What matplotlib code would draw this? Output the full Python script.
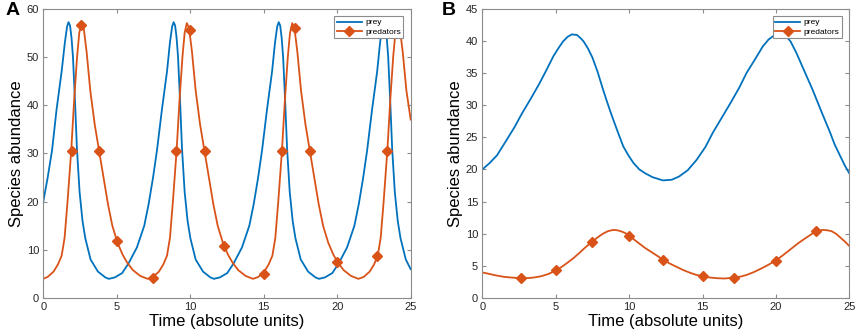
import matplotlib
matplotlib.use("Agg")
import matplotlib.pyplot as plt
from matplotlib.lines import Line2D

plt.rcParams['font.family'] = ['Liberation Sans', 'DejaVu Sans']

# ---- panel A: prey / predators
a_prey_t = [0, 0.3, 0.6, 0.9, 1.25, 1.47, 1.62, 1.72, 1.82, 1.92, 2.02, 2.17, 2.29, 2.47, 2.67, 2.86,
            3.22, 3.72, 4.22, 4.46, 4.87, 5.37, 5.81, 6.37, 6.87, 7.17, 7.47, 7.74, 8.07, 8.42, 8.62,
            8.77, 8.87, 8.97, 9.07, 9.17, 9.32, 9.44, 9.62, 9.82, 10.01, 10.37, 10.87, 11.37, 11.61,
            12.02, 12.52, 12.96, 13.52, 14.02, 14.32, 14.62, 14.89, 15.22, 15.57, 15.77, 15.92, 16.02,
            16.12, 16.22, 16.32, 16.47, 16.59, 16.77, 16.97, 17.16, 17.52, 18.02, 18.52, 18.76, 19.17,
            19.67, 20.11, 20.67, 21.17, 21.47, 21.77, 22.04, 22.37, 22.72, 22.92, 23.07, 23.17, 23.27,
            23.37, 23.47, 23.62, 23.74, 23.92, 24.12, 24.31, 24.67, 25.0]
a_prey = [20, 25, 30.7, 39, 47, 53, 56.3, 57.2, 56.5, 54, 50, 40, 31, 22, 16, 12.4,
          8, 5.5, 4.3, 4.0, 4.3, 5.2, 7.25, 10.5, 15, 19.5, 25, 30.7, 39, 47, 53,
          56.3, 57.2, 56.5, 54, 50, 40, 31, 22, 16, 12.4, 8, 5.5, 4.3, 4.0,
          4.3, 5.2, 7.25, 10.5, 15, 19.5, 25, 30.7, 39, 47, 53, 56.3, 57.2,
          56.5, 54, 50, 40, 31, 22, 16, 12.4, 8, 5.5, 4.3, 4.0, 4.3,
          5.2, 7.25, 10.5, 15, 19.5, 25, 30.7, 39, 47, 53, 56.3, 57.2, 56.5,
          54, 50, 40, 31, 22, 16, 12.4, 8, 6.0]

a_pred_t = [0, 0.3, 0.7, 1.0, 1.25, 1.45, 1.65, 1.9, 2.1, 2.3, 2.45, 2.6, 2.75, 2.95, 3.2, 3.5, 3.8,
            4.1, 4.4, 4.7, 5.05, 5.4, 5.7, 6.1, 6.6, 7.1, 7.47, 7.87, 8.17, 8.42, 8.62, 8.82, 9.07,
            9.27, 9.47, 9.62, 9.77, 9.92, 10.12, 10.37, 10.67, 10.97, 11.27, 11.57, 11.87, 12.22,
            12.57, 12.87, 13.27, 13.77, 14.27, 14.64, 15.04, 15.34, 15.59, 15.79, 15.99, 16.24,
            16.44, 16.64, 16.79, 16.94, 17.09, 17.29, 17.54, 17.84, 18.14, 18.44, 18.74, 19.04,
            19.39, 19.74, 20.04, 20.44, 20.94, 21.44, 21.81, 22.21, 22.51, 22.76, 22.96, 23.16,
            23.41, 23.61, 23.81, 23.96, 24.11, 24.26, 24.46, 24.71, 25.0]
a_pred = [4.0, 4.4, 5.5, 7.0, 8.8, 12.5, 20, 30.5, 41, 50, 55, 57, 56, 51, 43, 36, 30.5,
          25, 19.5, 15, 11.5, 9.0, 7.4, 5.8, 4.6, 4.0, 4.4, 5.5, 7.0, 8.8, 12.5, 20, 30.5,
          41, 50, 55, 57, 56, 51, 43, 36, 30.5, 25, 19.5, 15, 11.5,
          9.0, 7.4, 5.8, 4.6, 4.0, 4.4, 5.5, 7.0, 8.8, 12.5, 20, 30.5,
          41, 50, 55, 57, 56, 51, 43, 36, 30.5, 25, 19.5, 15,
          11.5, 9.0, 7.4, 5.8, 4.6, 4.0, 4.4, 5.5, 7.0, 8.8, 12.5, 20,
          30.5, 41, 50, 55, 57, 56, 51, 43, 37]

a_mark_t = [1.93, 2.6, 3.8, 5.0, 7.5, 9.05, 9.98, 10.98, 12.3, 15.0, 16.25, 17.15, 18.15, 20.0, 22.7, 23.38]
a_mark = [30.5, 56.6, 30.5, 11.8, 4.2, 30.5, 55.5, 30.5, 10.8, 5.0, 30.5, 55.9, 30.5, 7.4, 8.8, 30.5]

# ---- panel B
b_prey_t = [0, 0.5, 1.0, 1.66, 2.2, 2.7, 3.3, 3.9, 4.4, 4.84, 5.2, 5.5, 5.8, 6.1, 6.45, 6.7, 6.9,
            7.2, 7.5, 7.85, 8.2, 8.5, 8.8, 9.2, 9.6, 9.95, 10.3, 10.7, 11.1, 11.6, 12.3, 12.9,
            13.4, 14.0, 14.6, 15.2, 15.7, 16.3, 16.9, 17.5, 18.0, 18.6, 19.1, 19.5, 19.8, 20.2,
            20.5, 20.7, 21.0, 21.4, 21.9, 22.5, 23.1, 23.7, 24.0, 24.4, 24.7, 25.0]
b_prey = [20.0, 21.0, 22.2, 24.6, 26.6, 28.7, 31.0, 33.4, 35.6, 37.6, 38.9, 39.9, 40.6, 41.0, 40.9,
          40.4, 39.9, 38.8, 37.4, 35.2, 32.6, 30.5, 28.5, 26.0, 23.6, 22.2, 21.0, 20.0, 19.4,
          18.8, 18.3, 18.4, 18.9, 19.9, 21.5, 23.5, 25.7, 28.0, 30.3, 32.7, 35.0, 37.2, 39.1,
          40.2, 40.7, 41.0, 40.9, 40.7, 39.9, 38.1, 35.5, 32.4, 29.0, 25.7, 23.9, 22.0, 20.6, 19.4]

b_pred_t = [0, 0.5, 1.0, 1.5, 2.0, 2.6, 3.1, 3.5, 4.0, 4.5, 5.0, 5.4, 5.8, 6.2, 6.6, 7.0, 7.45,
            7.8, 8.2, 8.55, 8.9, 9.2, 9.5, 9.75, 10.0, 10.4, 10.8, 11.15, 11.5, 11.9, 12.3,
            12.75, 13.2, 13.7, 14.2, 14.6, 15.05, 15.5, 16.0, 16.5, 17.14, 17.6, 18.0, 18.5,
            19.0, 19.5, 20.0, 20.5, 21.0, 21.5, 22.0, 22.4, 22.73, 23.0, 23.2, 23.5, 23.8,
            24.1, 24.4, 24.7, 25.0]
b_pred = [4.0, 3.75, 3.5, 3.3, 3.2, 3.1, 3.12, 3.2, 3.4, 3.75, 4.3, 4.85, 5.5, 6.2, 7.0, 7.85, 8.7,
          9.35, 10.0, 10.4, 10.6, 10.55, 10.35, 10.1, 9.7, 9.0, 8.3, 7.7, 7.2, 6.6, 6.0,
          5.4, 4.9, 4.35, 3.9, 3.6, 3.4, 3.2, 3.1, 3.05, 3.2, 3.35, 3.6, 4.05,
          4.6, 5.2, 5.85, 6.7, 7.6, 8.5, 9.3, 9.9, 10.4, 10.55, 10.6, 10.55, 10.4,
          10.0, 9.4, 8.8, 8.1]

b_mark_t = [2.61, 5.0, 7.45, 10.0, 12.3, 15.05, 17.14, 20.0, 22.73]
b_mark = [3.1, 4.3, 8.7, 9.7, 6.0, 3.4, 3.2, 5.85, 10.4]

BLUE = '#0072BD'
ORANGE = '#D95319'
GREY = '#8c8c8c'

fig = plt.figure(figsize=(8.57, 3.32), dpi=100)
axA = fig.add_axes([0.0505, 0.102, 0.4287, 0.872])
axB = fig.add_axes([0.5628, 0.102, 0.4282, 0.872])


def style(ax, ymax, ystep):
    ax.set_xlim(0, 25)
    ax.set_ylim(0, ymax)
    ax.set_xticks(range(0, 26, 5))
    ax.set_yticks(range(0, ymax + 1, ystep))
    ax.tick_params(direction='in', length=3, width=0.8, labelsize=8, colors=GREY,
                   labelcolor='#262626', top=True, right=True, pad=3)
    for s in ax.spines.values():
        s.set_color(GREY)
        s.set_linewidth(0.8)
    ax.set_xlabel('Time (absolute units)', fontsize=12, labelpad=1)
    ax.set_ylabel('Species abundance', fontsize=12, labelpad=2)
    handles = [Line2D([], [], color=BLUE, lw=1.3),
               Line2D([], [], color=ORANGE, lw=1.3, marker='D', markersize=5)]
    leg = ax.legend(handles, ['prey', 'predators'], loc='upper right', fontsize=6,
                    fancybox=False, framealpha=1, edgecolor=GREY, handlelength=3.0,
                    borderpad=0.3, labelspacing=0.2, handletextpad=0.4,
                    borderaxespad=0.9)
    leg.get_frame().set_linewidth(0.8)


axA.plot(a_prey_t, a_prey, color=BLUE, lw=1.3)
axA.plot(a_pred_t, a_pred, color=ORANGE, lw=1.3)
axA.plot(a_mark_t, a_mark, ls='none', marker='D', markersize=5, color=ORANGE)
style(axA, 60, 10)

axB.plot(b_prey_t, b_prey, color=BLUE, lw=1.3)
axB.plot(b_pred_t, b_pred, color=ORANGE, lw=1.3)
axB.plot(b_mark_t, b_mark, ls='none', marker='D', markersize=5, color=ORANGE)
style(axB, 45, 5)

fig.text(0.006, 0.955, 'A', fontsize=14, fontweight='bold')
fig.text(0.516, 0.955, 'B', fontsize=14, fontweight='bold')

fig.savefig('out.png', dpi=100)
